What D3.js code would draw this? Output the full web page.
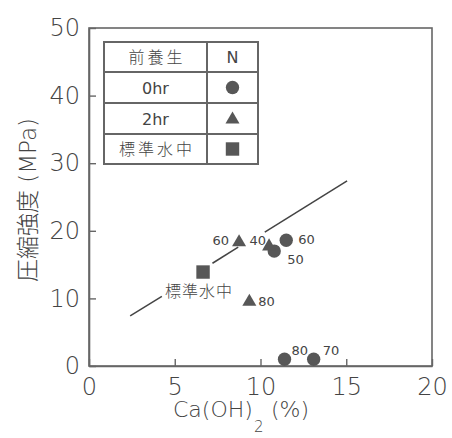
<!DOCTYPE html>
<html>
<head>
<meta charset="utf-8">
<script src="https://cdn.jsdelivr.net/npm/d3@7"></script>
<style>
  body { margin: 0; background: #fff; }
  svg text { fill: #444; }
</style>
</head>
<body>
<div id="chart"></div>
<script>
// data
var xTicks = [0, 5, 10, 15, 20];
var yTicks = [0, 10, 20, 30, 40, 50];

// 0hr (circles), 2hr (triangles), 標準水中 (square)
var circlePoints   = [ {x: 11.5, y: 18.6, label: "60"}, {x: 10.8, y: 17.0, label: "50"},
                       {x: 11.4, y: 1.0,  label: "80"}, {x: 13.1, y: 1.0,  label: "70"} ];
var trianglePoints = [ {x: 8.75, y: 18.3, label: "60"}, {x: 10.5, y: 17.7, label: "40"},
                       {x: 9.35, y: 9.5,  label: "80"} ];
var squarePoints   = [ {x: 6.65, y: 13.9, label: "標準水中"} ];

// fitted line, drawn in pieces (broken around labels)
var fitSegments = [
    [[2.4, 7.4], [4.25, 10.3]],
    [[7.2, 15.2], [8.7, 17.6]],
    [[10.25, 19.8], [15.05, 27.4]]
];

var legendRows = [ ["前養生", "N"], ["0hr", "circle"], ["2hr", "triangle"], ["標準水中", "square"] ];

// label offsets (px) relative to the marker
var labelOffsets = {
    "c60": [12, 4, "start"], "c50": [13, 13, "start"], "c80": [7, -4, "start"], "c70": [9, -4, "start"],
    "t60": [-10, 3, "end"], "t40": [-3, -1, "end"], "t80": [9, 4, "start"],
    "s標準水中": [-4, 25, "middle"]
};

var W = 452, H = 438;
var x = d3.scaleLinear().domain([0, 20]).range([89, 432]);
var y = d3.scaleLinear().domain([0, 50]).range([366, 28]);

var svg = d3.select("#chart").append("svg")
    .attr("width", W).attr("height", H);

var axisColor = "#666";
var numFont = "'DejaVu Sans', sans-serif";
var cjkFont = "'Noto Sans CJK JP', 'DejaVu Sans', sans-serif";

// frame
svg.append("rect")
    .attr("x", x(0)).attr("y", y(50))
    .attr("width", x(20) - x(0)).attr("height", y(0) - y(50))
    .attr("fill", "none").attr("stroke", axisColor).attr("stroke-width", 1.6);

// axes
var xAxis = svg.append("g")
    .attr("transform", "translate(0," + y(0) + ")")
    .call(d3.axisBottom(x).tickValues(xTicks).tickSizeInner(-7).tickSizeOuter(0).tickPadding(12));
var yAxis = svg.append("g")
    .attr("transform", "translate(" + x(0) + ",0)")
    .call(d3.axisLeft(y).tickValues(yTicks).tickSizeInner(-7).tickSizeOuter(0).tickPadding(9));

[xAxis, yAxis].forEach(function(g) {
    g.select(".domain").attr("stroke", axisColor).attr("stroke-width", 1.6);
    g.selectAll(".tick line").attr("stroke", axisColor).attr("stroke-width", 1.4);
    g.selectAll(".tick text")
        .style("font-family", numFont).style("font-size", "24px")
        .style("font-weight", 200).attr("fill", "#555");
});

// axis titles
svg.append("text")
    .attr("x", 173).attr("y", 417)
    .style("font-family", numFont).style("font-size", "22px").style("font-weight", 200)
    .attr("fill", "#555").text("Ca(OH)");
svg.append("text")
    .attr("x", 254).attr("y", 432)
    .style("font-family", numFont).style("font-size", "15px").style("font-weight", 200)
    .attr("fill", "#555").text("2");
svg.append("text")
    .attr("x", 271).attr("y", 417)
    .style("font-family", numFont).style("font-size", "22px").style("font-weight", 200)
    .attr("fill", "#555").text("(%)");

svg.append("text")
    .attr("transform", "translate(36,200) rotate(-90)")
    .attr("text-anchor", "middle")
    .style("font-size", "23px").style("font-weight", 200)
    .attr("fill", "#555")
    .html("<tspan style=\"font-family:'Noto Sans CJK JP'\">圧縮強度</tspan><tspan style=\"font-family:'DejaVu Sans'\"> (MPa)</tspan>");

// fit line
var line = d3.line().x(function(d) { return x(d[0]); }).y(function(d) { return y(d[1]); });
svg.append("g").selectAll("path")
    .data(fitSegments).enter().append("path")
    .attr("d", line)
    .attr("fill", "none").attr("stroke", "#444").attr("stroke-width", 1.5);

var markerFill = "#575757";
var symbols = {
    circle:   d3.symbol().type(d3.symbolCircle).size(140),
    triangle: d3.symbol().type(d3.symbolTriangle).size(85),
    square:   d3.symbol().type(d3.symbolSquare).size(180)
};

function drawSeries(data, kind, key) {
    var g = svg.append("g");
    g.selectAll("path")
        .data(data).enter().append("path")
        .attr("d", symbols[kind])
        .attr("transform", function(d) { return "translate(" + x(d.x) + "," + y(d.y) + ")"; })
        .attr("fill", markerFill);
    g.selectAll("text")
        .data(data).enter().append("text")
        .attr("x", function(d) { return x(d.x) + labelOffsets[key + d.label][0]; })
        .attr("y", function(d) { return y(d.y) + labelOffsets[key + d.label][1]; })
        .attr("text-anchor", function(d) { return labelOffsets[key + d.label][2]; })
        .style("font-family", key === "s" ? cjkFont : numFont)
        .style("font-size", key === "s" ? "16px" : "13px")
        .style("font-weight", key === "s" ? 300 : 400)
        .style("letter-spacing", key === "s" ? "1px" : null)
        .attr("fill", "#444")
        .text(function(d) { return d.label; });
}
drawSeries(circlePoints, "circle", "c");
drawSeries(trianglePoints, "triangle", "t");
drawSeries(squarePoints, "square", "s");

// legend table
var lg = svg.append("g");
var colX = [104, 207, 258];
var rowY = [42, 72, 103, 134, 164];
lg.append("rect")
    .attr("x", colX[0]).attr("y", rowY[0])
    .attr("width", colX[2] - colX[0]).attr("height", rowY[4] - rowY[0])
    .attr("fill", "#fff").attr("stroke", axisColor).attr("stroke-width", 2);
lg.append("line")
    .attr("x1", colX[1]).attr("x2", colX[1]).attr("y1", rowY[0]).attr("y2", rowY[4])
    .attr("stroke", axisColor).attr("stroke-width", 2);
rowY.slice(1, 4).forEach(function(ry) {
    lg.append("line")
        .attr("x1", colX[0]).attr("x2", colX[2]).attr("y1", ry).attr("y2", ry)
        .attr("stroke", axisColor).attr("stroke-width", 2);
});
legendRows.forEach(function(r, i) {
    var cy = (rowY[i] + rowY[i + 1]) / 2;
    var isCjk = /[^\x00-\x7f]/.test(r[0]);
    lg.append("text")
        .attr("x", (colX[0] + colX[1]) / 2 + (isCjk ? 1.5 : 0)).attr("y", cy + 6)
        .attr("text-anchor", "middle")
        .style("font-family", isCjk ? cjkFont : numFont)
        .style("font-size", "16px")
        .style("font-weight", isCjk ? 300 : 400)
        .style("letter-spacing", isCjk ? "3px" : null)
        .attr("fill", isCjk ? "#444" : "#666")
        .text(r[0]);
    var mx = (colX[1] + colX[2]) / 2;
    if (r[1] === "N") {
        lg.append("text")
            .attr("x", mx).attr("y", cy + 6).attr("text-anchor", "middle")
            .style("font-family", numFont).style("font-size", "16px")
            .attr("fill", "#666").text("N");
    } else {
        lg.append("path")
            .attr("d", symbols[r[1]])
            .attr("transform", "translate(" + mx + "," + (cy + (r[1] === "triangle" ? 1 : 0)) + ")")
            .attr("fill", markerFill);
    }
});
</script>
</body>
</html>
